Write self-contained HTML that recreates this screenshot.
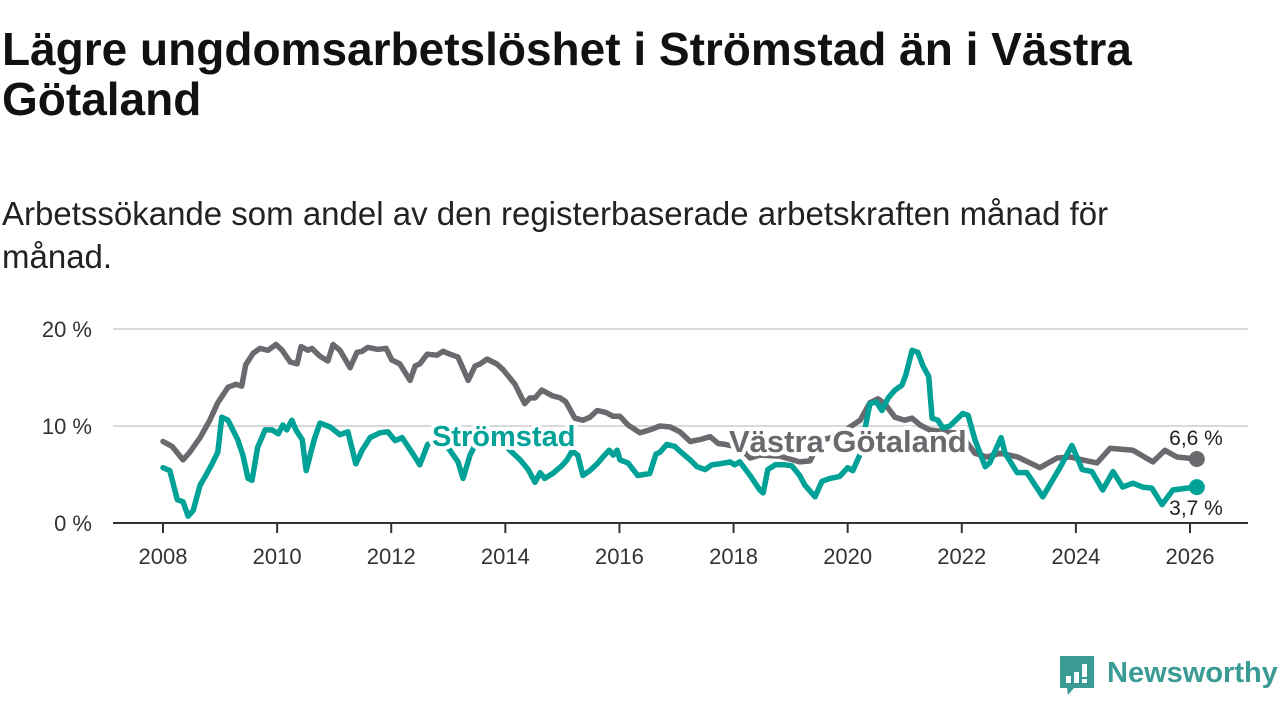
<!DOCTYPE html>
<html><head><meta charset="utf-8"><style>
html,body{margin:0;padding:0;background:#fff;width:1280px;height:720px;overflow:hidden;font-family:"Liberation Sans",sans-serif;}
#title{position:absolute;left:2px;top:24px;font-size:46px;font-weight:bold;line-height:50px;color:#111;margin:0;width:1200px;}
#sub{position:absolute;left:2px;top:192px;font-size:33px;line-height:43px;color:#222;margin:0;width:1200px;}
svg{position:absolute;left:0;top:0;}
</style></head><body>
<h1 id="title">Lägre ungdomsarbetslöshet i Strömstad än i Västra Götaland</h1>
<p id="sub">Arbetssökande som andel av den registerbaserade arbetskraften månad för månad.</p>
<svg id="chart" width="1280" height="720"></svg>
<script>
const yTicks=[0,10,20];
const yTickLabels=["0 %","10 %","20 %"];
const xTicks=[2008,2010,2012,2014,2016,2018,2020,2022,2024,2026];
const vgDates=[2008.00,2008.16,2008.35,2008.47,2008.65,2008.82,2008.96,2009.14,2009.28,2009.38,2009.45,2009.58,2009.70,2009.84,2009.98,2010.09,2010.23,2010.35,2010.42,2010.54,2010.61,2010.75,2010.89,2010.98,2011.10,2011.28,2011.40,2011.49,2011.59,2011.77,2011.91,2012.01,2012.15,2012.33,2012.42,2012.50,2012.63,2012.80,2012.91,2013.03,2013.17,2013.35,2013.47,2013.56,2013.68,2013.85,2013.96,2014.17,2014.34,2014.43,2014.52,2014.64,2014.83,2014.96,2015.06,2015.22,2015.36,2015.48,2015.61,2015.76,2015.89,2016.01,2016.15,2016.36,2016.53,2016.71,2016.89,2017.06,2017.24,2017.41,2017.59,2017.73,2017.85,2018.11,2018.29,2018.46,2018.81,2019.16,2019.34,2019.51,2019.78,2020.04,2020.22,2020.39,2020.53,2020.65,2020.83,2021.00,2021.13,2021.27,2021.44,2021.70,2021.88,2022.00,2022.23,2022.44,2022.67,2022.98,2023.37,2023.67,2023.90,2024.12,2024.37,2024.60,2025.00,2025.35,2025.56,2025.77,2026.12];
const vgValues=[8.4,7.9,6.5,7.3,8.8,10.6,12.4,14.0,14.3,14.1,16.3,17.5,18.0,17.8,18.4,17.8,16.6,16.4,18.2,17.8,18.0,17.2,16.7,18.4,17.8,16.0,17.6,17.7,18.1,17.9,18.0,16.8,16.4,14.7,16.2,16.4,17.4,17.3,17.7,17.4,17.1,14.7,16.2,16.4,16.9,16.4,15.8,14.3,12.3,12.9,12.9,13.7,13.1,12.9,12.5,10.8,10.6,10.9,11.6,11.4,11.0,11.0,10.1,9.3,9.6,10.0,9.9,9.4,8.4,8.6,8.9,8.2,8.1,7.8,6.7,7.0,6.9,6.3,6.4,8.5,8.9,9.9,10.6,12.4,12.8,12.3,10.9,10.6,10.8,10.1,9.6,9.4,9.3,9.0,7.2,6.8,7.2,6.8,5.7,6.7,6.8,6.5,6.2,7.7,7.5,6.3,7.5,6.8,6.6];
const stDates=[2008.00,2008.12,2008.25,2008.35,2008.44,2008.53,2008.65,2008.75,2008.86,2008.96,2009.03,2009.14,2009.31,2009.40,2009.49,2009.56,2009.66,2009.79,2009.91,2010.02,2010.10,2010.17,2010.26,2010.33,2010.44,2010.51,2010.65,2010.75,2010.93,2011.10,2011.24,2011.38,2011.49,2011.63,2011.80,2011.94,2012.07,2012.19,2012.36,2012.50,2012.64,2012.85,2013.03,2013.17,2013.26,2013.38,2013.52,2013.66,2013.91,2014.08,2014.26,2014.40,2014.52,2014.61,2014.69,2014.83,2014.99,2015.08,2015.17,2015.27,2015.36,2015.48,2015.61,2015.71,2015.82,2015.89,2015.96,2016.01,2016.15,2016.32,2016.53,2016.64,2016.71,2016.83,2016.97,2017.06,2017.24,2017.36,2017.50,2017.62,2017.76,2017.94,2018.02,2018.11,2018.29,2018.46,2018.52,2018.60,2018.73,2018.90,2019.02,2019.16,2019.25,2019.43,2019.55,2019.69,2019.86,2020.00,2020.09,2020.22,2020.30,2020.39,2020.50,2020.60,2020.71,2020.83,2020.95,2021.02,2021.13,2021.23,2021.32,2021.42,2021.48,2021.58,2021.67,2021.79,2022.02,2022.11,2022.23,2022.41,2022.49,2022.69,2022.76,2022.97,2023.14,2023.42,2023.72,2023.93,2024.11,2024.28,2024.47,2024.65,2024.82,2025.00,2025.17,2025.33,2025.51,2025.70,2025.95,2026.12];
const stValues=[5.7,5.4,2.4,2.2,0.7,1.3,3.9,4.9,6.1,7.3,10.9,10.6,8.6,7.0,4.6,4.4,7.8,9.6,9.6,9.2,10.1,9.6,10.6,9.6,8.6,5.4,8.6,10.3,9.9,9.1,9.4,6.1,7.5,8.8,9.3,9.4,8.5,8.8,7.3,6.0,8.1,8.6,7.5,6.3,4.6,7.0,8.6,8.6,8.6,7.5,6.5,5.5,4.2,5.2,4.6,5.1,5.9,6.5,7.4,7.0,4.9,5.4,6.1,6.8,7.5,7.0,7.5,6.5,6.2,4.9,5.1,7.1,7.3,8.1,7.9,7.4,6.5,5.8,5.5,6.0,6.1,6.3,6.0,6.3,4.9,3.4,3.1,5.5,6.0,6.0,5.9,4.9,3.9,2.7,4.3,4.6,4.8,5.7,5.4,7.1,9.6,12.3,12.5,11.6,12.9,13.7,14.2,15.3,17.8,17.6,16.2,15.1,10.8,10.6,9.8,10.0,11.3,11.1,8.6,5.8,6.2,8.8,7.2,5.2,5.2,2.7,5.7,8.0,5.5,5.3,3.4,5.3,3.7,4.1,3.7,3.6,1.9,3.4,3.6,3.7];

const NS="http://www.w3.org/2000/svg";
const svg=document.getElementById('chart');
const X0=113,X1=1248;
const x=y=>163+(y-2008)*(1190-163)/18;
const yS=v=>523-v*9.7;
function mk(tag,attrs,parent){const e=document.createElementNS(NS,tag);for(const k in attrs)e.setAttribute(k,attrs[k]);(parent||svg).appendChild(e);return e;}
yTicks.forEach((t,i)=>{
  if(t>0){const g=mk('line',{x1:X0,x2:X1,y1:yS(t),y2:yS(t),stroke:'#d9d9d9','stroke-width':2});
  
  }
  const l=mk('text',{x:92,y:yS(t)+8,'text-anchor':'end','font-size':22,fill:'#333','font-family':'Liberation Sans, sans-serif'});
  l.textContent=yTickLabels[i];
  
  
});
const base=mk('line',{x1:X0,x2:X1,y1:523,y2:523,stroke:'#333','stroke-width':2});


xTicks.forEach(t=>{
  const tk=mk('line',{x1:x(t),x2:x(t),y1:523,y2:533,stroke:'#333','stroke-width':2});
  
  
  const l=mk('text',{x:x(t),y:564,'text-anchor':'middle','font-size':22,fill:'#333','font-family':'Liberation Sans, sans-serif'});
  l.textContent=t;
  
  
});
function line(d,v,col,name){
  const p=mk('path',{d:d.map((t,i)=>(i?'L':'M')+x(t).toFixed(1)+','+yS(v[i]).toFixed(1)).join(''),fill:'none',stroke:col,'stroke-width':5.5,'stroke-linejoin':'round','stroke-linecap':'round'});
  
  
  const c=mk('circle',{cx:x(d[d.length-1]),cy:yS(v[v.length-1]),r:8,fill:col});
  
  
}
const GRAY='#6b686e',TEAL='#00a196';
line(vgDates,vgValues,GRAY,'vastra-gotaland');
line(stDates,stValues,TEAL,'stromstad');
function lab(txt,xx,yy,col,size,bold,name,anchor){
  const t=mk('text',{x:xx,y:yy,'font-size':size,'font-weight':bold?'bold':'normal',fill:col,stroke:'#fff','stroke-width':bold?8:6,'paint-order':'stroke','stroke-linejoin':'round','text-anchor':anchor||'start','font-family':'Liberation Sans, sans-serif'});
  t.textContent=txt;
  
  
}
lab('Strömstad',432,446,TEAL,29,true,'stromstad-label');
lab('Västra Götaland',729,452,GRAY,31,true,'vastra-gotaland-label');
lab('6,6 %',1196,445,'#222',21,false,'vastra-gotaland-value-label','middle');
lab('3,7 %',1196,515,'#222',21,false,'stromstad-value-label','middle');
const lg=mk('g',{});


mk('path',{d:'M1060,656 h34 v32 h-20 l-6,7 l-1,-7 h-7 z',fill:'#3a9a94'},lg);
mk('rect',{x:1066,y:676,width:5,height:7,fill:'#fff'},lg);
mk('rect',{x:1074,y:672,width:5,height:11,fill:'#fff'},lg);
mk('rect',{x:1082,y:664,width:5,height:13,fill:'#fff'},lg);
mk('rect',{x:1082,y:679,width:5,height:4,fill:'#fff'},lg);
const lt=mk('text',{x:1107,y:682,'font-size':29,'font-weight':'bold',fill:'#3a9a94','font-family':'Liberation Sans, sans-serif'},lg);
lt.textContent='Newsworthy';
</script>
</body></html>
